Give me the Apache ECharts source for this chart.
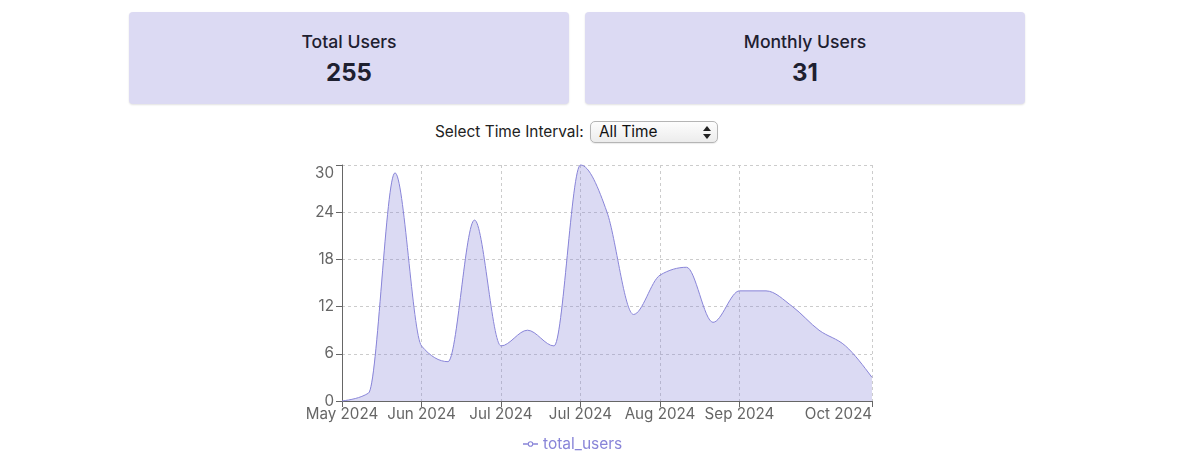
<!DOCTYPE html>
<html>
<head>
<meta charset="utf-8">
<script src="https://cdn.jsdelivr.net/npm/echarts@6/dist/echarts.min.js"></script>
<style>
  html, body { margin: 0; padding: 0; background: #fff; }
  body { width: 1196px; height: 463px; position: relative; overflow: hidden; font-family: Inter, "Noto Sans", sans-serif; }
  #chart { position: absolute; left: 0; top: 0; width: 1196px; height: 463px; }
  .card { position: absolute; top: 12px; width: 440px; height: 92px; background: #dcdaf3; border-radius: 4px;
          box-shadow: 0 1px 2px rgba(0,0,0,0.12); text-align: center; color: #1e2030; }
  .card .t { position: absolute; left: 0; right: 0; top: 19px; font-size: 17.6px; font-weight: 500; line-height: 22px; }
  .card .v { position: absolute; left: 0; right: 0; top: 46px; font-size: 24px; font-weight: 700; line-height: 30px; }
  #sel { position: absolute; top: 121px; left: 435px; height: 22px; font-size: 15.4px; color: #222; line-height: 22px; }
  #sel .lbl { position: absolute; left: 0; top: 0; white-space: nowrap; }
  #sel .box { position: absolute; left: 155px; top: 0; width: 126px; height: 20px; border: 1px solid #b5b5b5; border-radius: 5px;
              background: linear-gradient(#fdfdfd, #ececec); box-shadow: 0 1px 1px rgba(0,0,0,0.08); }
  #sel .box span { position: absolute; left: 8px; top: -1px; font-size: 15.4px; color: #111; }
  #sel .box svg { position: absolute; right: 6px; top: 4px; }
</style>
</head>
<body>
<div class="card" style="left:129px"><div class="t">Total Users</div><div class="v">255</div></div>
<div class="card" style="left:585px"><div class="t">Monthly Users</div><div class="v">31</div></div>
<div id="sel"><span class="lbl">Select Time Interval:</span>
  <div class="box"><span>All Time</span>
    <svg width="8" height="13" viewBox="0 0 8 13"><path d="M4 0 L8 5 L0 5 Z" fill="#222"/><path d="M0 8 L8 8 L4 13 Z" fill="#222"/></svg>
  </div>
</div>
<div id="chart"></div>
<script>
// Weekly periods (week start dates)
const weeks = ["2024-05-20","2024-05-27","2024-06-03","2024-06-10","2024-06-17","2024-06-24","2024-07-01",
  "2024-07-08","2024-07-15","2024-07-22","2024-07-29","2024-08-05","2024-08-12","2024-08-19","2024-08-26",
  "2024-09-02","2024-09-09","2024-09-16","2024-09-23","2024-09-30","2024-10-07"];
const totalUsers = [0, 1, 29, 7, 5, 23, 7, 9, 7, 30, 24, 11, 16, 17, 10, 14, 14, 12, 9, 7, 3];
const yTicks = [0, 6, 12, 18, 24, 30];
const seriesName = "total_users";

const monthNames = ["Jan","Feb","Mar","Apr","May","Jun","Jul","Aug","Sep","Oct","Nov","Dec"];
function fmt(d) { const p = d.split("-"); return monthNames[parseInt(p[1], 10) - 1] + " " + p[0]; }
const lastIdx = weeks.length - 1;
function shown(i) { return (i % 3 === 0 && i <= lastIdx - 4) || i === lastIdx; }

// Monotone-X cubic interpolation (same as d3 curveMonotoneX) in pixel space
function sgn(x) { return x < 0 ? -1 : 1; }
function monotonePath(pts) {
  const n = pts.length, t = new Array(n).fill(0);
  for (let i = 1; i < n - 1; i++) {
    const h0 = pts[i][0] - pts[i-1][0], h1 = pts[i+1][0] - pts[i][0];
    const s0 = (pts[i][1] - pts[i-1][1]) / h0, s1 = (pts[i+1][1] - pts[i][1]) / h1;
    const p = (s0 * h1 + s1 * h0) / (h0 + h1);
    t[i] = (sgn(s0) + sgn(s1)) * Math.min(Math.abs(s0), Math.abs(s1), 0.5 * Math.abs(p)) || 0;
  }
  if (n > 2) {
    let h = pts[1][0] - pts[0][0];
    t[0] = (3 * (pts[1][1] - pts[0][1]) / h - t[1]) / 2;
    h = pts[n-1][0] - pts[n-2][0];
    t[n-1] = (3 * (pts[n-1][1] - pts[n-2][1]) / h - t[n-2]) / 2;
  }
  let d = "M" + pts[0][0] + "," + pts[0][1];
  for (let i = 0; i < n - 1; i++) {
    const x0 = pts[i][0], y0 = pts[i][1], x1 = pts[i+1][0], y1 = pts[i+1][1];
    const dx = (x1 - x0) / 3;
    d += "C" + (x0 + dx) + "," + (y0 + dx * t[i]) + "," + (x1 - dx) + "," + (y1 - dx * t[i+1]) + "," + x1 + "," + y1;
  }
  return d;
}

const chart = echarts.init(document.getElementById("chart"), null, { renderer: "canvas" });
const font = "Inter, 'Noto Sans', sans-serif";
const lineColor = "#8884d8";
chart.setOption({
  animation: false,
  textStyle: { fontFamily: font },
  grid: { left: 342, right: 324, top: 165, bottom: 62, containLabel: false },
  legend: {
    data: [{ name: seriesName,
      icon: "path://M0,2.25H5V3.75H0Z M11,2.25H16V3.75H11Z M11,3A3,3,0,1,0,5,3A3,3,0,1,0,11,3Z M9.8,3A1.8,1.8,0,1,1,6.2,3A1.8,1.8,0,1,1,9.8,3Z" }],
    left: 518, top: 431, itemWidth: 15, itemHeight: 6, itemGap: 4,
    textStyle: { color: lineColor, fontSize: 15.5, fontFamily: font }
  },
  xAxis: {
    type: "category", data: weeks, boundaryGap: false,
    axisLine: { lineStyle: { color: "#666" } },
    axisTick: { show: true, length: 6, interval: (i) => shown(i), lineStyle: { color: "#666" } },
    axisLabel: { interval: (i) => shown(i), formatter: (v) => fmt(v), color: "#666", fontSize: 15.2, margin: 6,
                 alignMaxLabel: "right", showMaxLabel: true },
    splitLine: { show: true, interval: (i) => shown(i), lineStyle: { color: "#ccc", type: [3, 3] } }
  },
  yAxis: {
    type: "value", min: 0, max: 30, interval: 6,
    axisLine: { show: true, lineStyle: { color: "#666" } },
    axisTick: { show: true, length: 6, lineStyle: { color: "#666" } },
    axisLabel: { color: "#666", fontSize: 15.2, margin: 8, verticalAlignMaxLabel: "top", padding: [1, 0, 0, 0],
                 formatter: (v) => yTicks.includes(v) ? String(v) : "" },
    splitLine: { show: true, lineStyle: { color: "#ccc", type: [3, 3] } }
  },
  series: [{
    name: seriesName, type: "custom",
    data: totalUsers.map((v, i) => [i, v]),
    encode: { x: 0, y: 1 },
    itemStyle: { color: lineColor },
    renderItem: function (params, api) {
      if (params.dataIndex !== 0) return null;
      const pts = totalUsers.map((v, i) => api.coord([i, v]));
      const base = api.coord([0, 0])[1];
      const line = monotonePath(pts);
      const area = line + "L" + pts[pts.length-1][0] + "," + base + "L" + pts[0][0] + "," + base + "Z";
      return {
        type: "group",
        children: [
          { type: "path", shape: { pathData: area }, style: { fill: "rgba(136,132,216,0.3)", stroke: null } },
          { type: "path", shape: { pathData: line }, style: { fill: "none", stroke: lineColor, lineWidth: 1 } }
        ]
      };
    }
  }]
});
</script>
</body>
</html>
